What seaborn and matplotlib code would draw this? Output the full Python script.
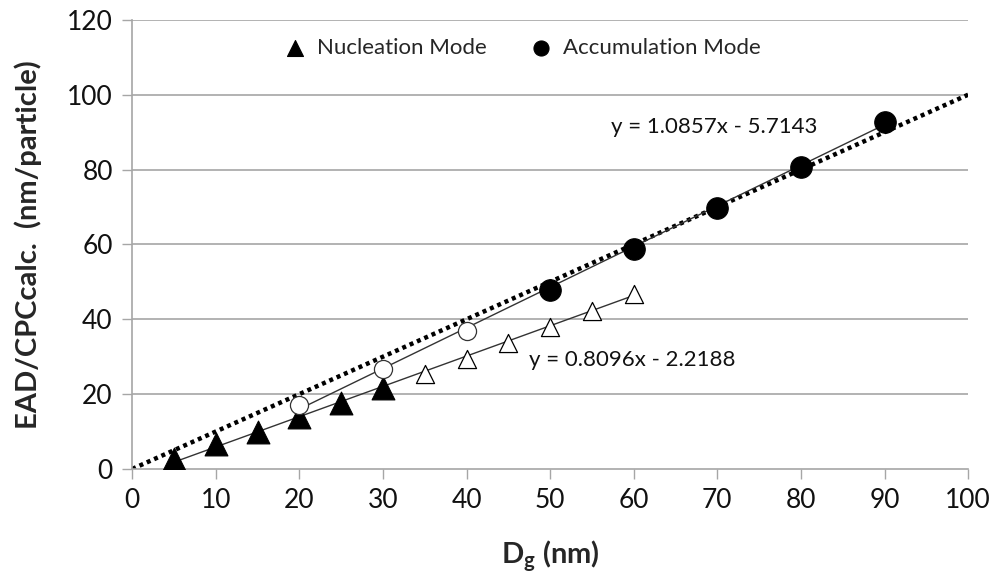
import numpy as np
import pandas as pd
import matplotlib
matplotlib.use("Agg")
import matplotlib.pyplot as plt
import seaborn as sns

# Nucleation mode: measured points (filled) and extended points (open)
nuc_x_filled = [5, 10, 15, 20, 25, 30]
nuc_y_filled = [2.7, 6.7, 9.9, 13.9, 17.6, 21.7]
nuc_x_open = [35, 40, 45, 50, 55, 60]
nuc_y_open = [25.4, 29.4, 33.7, 38.0, 42.2, 46.8]

# Accumulation mode: extended points (open) and measured points (filled)
acc_x_open = [20, 30, 40]
acc_y_open = [17.1, 26.7, 36.9]
acc_x_filled = [50, 60, 70, 80, 90]
acc_y_filled = [47.9, 58.8, 69.8, 80.7, 92.8]

# Linear trend lines (slope, intercept) and their x ranges
nuc_fit = (0.8096, -2.2188)
acc_fit = (1.0857, -5.7143)
nuc_range = [5, 60]
acc_range = [20, 90]

# 1:1 reference line
ref_x = [0, 100]
ref_y = [0, 100]

x_ticks = list(range(0, 101, 10))
y_ticks = list(range(0, 121, 20))

sns.set_theme(style="white")
plt.rcParams["font.family"] = ["Lato", "DejaVu Sans"]

fig, ax = plt.subplots(figsize=(9.94, 5.84), dpi=100)
fig.subplots_adjust(left=0.133, right=0.974, bottom=0.197, top=0.966)

grid_c = "#a6a6a6"
for yv in y_ticks[1:]:
    ax.axhline(yv, color=grid_c, lw=1.2, zorder=0)

# 1:1 dotted line
sns.lineplot(x=ref_x, y=ref_y, ax=ax, color="black", lw=3.2,
             linestyle=(0, (0.9, 0.9)), zorder=2)

# trend lines
nx = np.array(nuc_range, dtype=float)
axr = np.array(acc_range, dtype=float)
sns.lineplot(x=nx, y=nuc_fit[0] * nx + nuc_fit[1], ax=ax, color="#333333",
             lw=1.0, zorder=3)
sns.lineplot(x=axr, y=acc_fit[0] * axr + acc_fit[1], ax=ax, color="#333333",
             lw=1.0, zorder=3)

# markers
sns.scatterplot(x=nuc_x_filled, y=nuc_y_filled, ax=ax, marker="^", s=270,
                color="black", edgecolor="black", linewidth=0.8, zorder=4,
                label="Nucleation Mode")
sns.scatterplot(x=nuc_x_open, y=nuc_y_open, ax=ax, marker="^", s=170,
                facecolor="white", edgecolor="black", linewidth=0.9, zorder=4)
sns.scatterplot(x=acc_x_filled, y=acc_y_filled, ax=ax, marker="o", s=240,
                color="black", edgecolor="black", linewidth=0.8, zorder=4,
                label="Accumulation Mode")
sns.scatterplot(x=acc_x_open, y=acc_y_open, ax=ax, marker="o", s=170,
                facecolor="white", edgecolor="#333333", linewidth=0.9, zorder=4)

# equation labels
ax.text(57.3, 91.5, "y = 1.0857x - 5.7143", fontsize=16, color="#111111",
        ha="left", va="center")
ax.text(47.5, 29.0, "y = 0.8096x - 2.2188", fontsize=16, color="#111111",
        ha="left", va="center")

ax.set_xlim(0, 100)
ax.set_ylim(0, 120)
ax.set_xticks(x_ticks)
ax.set_yticks(y_ticks)
ax.tick_params(axis="both", which="major", labelsize=19, length=7,
               width=1.0, color=grid_c, direction="out", bottom=True,
               left=True, pad=7, labelcolor="#111111")

for side in ["top", "right"]:
    ax.spines[side].set_visible(False)
for side in ["left", "bottom"]:
    ax.spines[side].set_color(grid_c)
    ax.spines[side].set_linewidth(1.2)

ax.set_xlabel(r"D$_\mathregular{g}$ (nm)", fontsize=21, fontweight="bold",
              labelpad=18)
ax.set_ylabel("EAD/CPCcalc.  (nm/particle)", fontsize=21, fontweight="bold",
              labelpad=18)

leg = ax.legend(loc="upper center", bbox_to_anchor=(0.46, 1.005), ncol=2,
                frameon=False, fontsize=16, handletextpad=0.0,
                columnspacing=1.4, markerscale=0.7)

fig.savefig("out.png", dpi=100)
